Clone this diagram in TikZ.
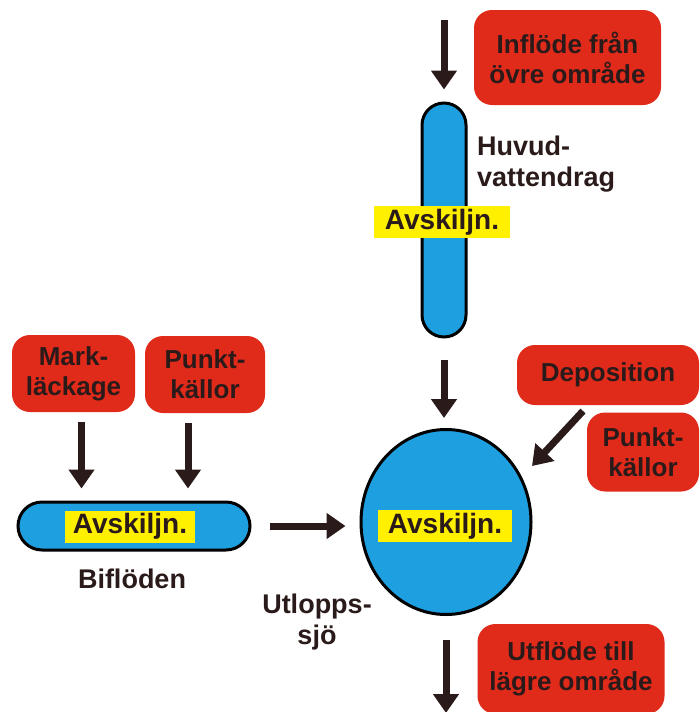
\documentclass[tikz,border=0pt]{standalone}
\usepackage{fontspec}
\setmainfont{Liberation Sans}
\usetikzlibrary{arrows.meta,shapes.geometric}
\definecolor{boxred}{HTML}{E02A1A}
\definecolor{waterblue}{HTML}{1E9FE0}
\definecolor{sepyellow}{HTML}{FFF000}
\definecolor{ink}{HTML}{2A1A1A}
\tikzset{source/.style = {fill=boxred, rounded corners=18pt, text=ink, align=center,
    inner sep=0pt, font=\bfseries\fontsize{26}{30}\selectfont},
  waterbody/.style = {fill=waterblue, draw=black, line width=3pt},
  sepbox/.style = {fill=sepyellow, inner sep=0pt, minimum height=32pt, text=ink,
    font=\bfseries\fontsize{28}{30}\selectfont},
  caption/.style = {text=ink, inner sep=0pt, font=\bfseries\fontsize{27}{31}\selectfont},
  flow/.style = {-{Triangle[width=25pt,length=19pt]}, line width=7pt, draw=ink}}

\begin{document}
\begin{tikzpicture}[x=1pt, y=-1pt]
  \useasboundingbox (0,0) rectangle (699,712);
  % huvudvattendrag
  \node[source, minimum width=187pt, minimum height=95pt] (infl) at (567.5,57.5) {Inflöde från\\övre område};
  \node[waterbody, rounded corners=22pt, minimum width=44pt, minimum height=234pt] (huvud) at (444,220) {};
  \node[sepbox, minimum width=136pt] (avsk1) at (442,222) {Avskiljn.};
  \node[caption, anchor=north west, align=left] (huvtext) at (477,136) {Huvud-\\vattendrag};
  % sjön
  \node[waterbody, ellipse, inner sep=0pt, minimum width=170pt, minimum height=185pt] (sjo) at (446,522) {};
  \node[sepbox, minimum width=134pt] (avsk2) at (445,526) {Avskiljn.};
  \node[caption, align=center] (utlopp) at (317,622) {Utlopps-\\sjö};
  \node[source, minimum width=182pt, minimum height=60pt] (depo) at (608,375) {Deposition};
  \node[source, minimum width=112pt, minimum height=79pt] (punkt2) at (643,452) {Punkt-\\källor};
  \node[source, minimum width=187pt, minimum height=90pt] (utfl) at (571,669) {Utflöde till\\lägre område};
  % biflöden
  \node[source, minimum width=123pt, minimum height=77pt] (mark) at (73.5,373.5) {Mark-\\läckage};
  \node[source, minimum width=120pt, minimum height=77pt] (punkt1) at (205,374.5) {Punkt-\\källor};
  \node[waterbody, rounded corners=24pt, minimum width=232pt, minimum height=48pt] (bifl) at (134,526) {};
  \node[sepbox, minimum width=130pt] (avsk3) at (130,526.5) {Avskiljn.};
  \node[caption] (bifltext) at (132,579) {Biflöden};

  \coordinate (intop) at (444,20);
  \coordinate (utbot) at (446,713);
  \coordinate (dstart) at (583,411);
  \coordinate (dend) at (532,466);

  \draw[flow, shorten >=12pt] (intop) -- (huvud.north);
  \draw[flow, shorten <=21pt, shorten >=10pt] (huvud.south) -- (huvud.south |- sjo.north);
  \draw[flow, shorten <=10pt, shorten >=12pt] ([xshift=8pt]mark.south) -- ([xshift=8pt]mark.south |- bifl.north);
  \draw[flow, shorten <=10pt, shorten >=12pt] ([xshift=-17pt]punkt1.south) -- ([xshift=-17pt]punkt1.south |- bifl.north);
  \draw[flow, shorten <=18pt, shorten >=14pt] (bifl.east) -- (bifl.east -| sjo.west);
  \draw[flow] (dstart) -- (dend);
  \draw[flow, shorten <=24pt] (sjo.south) -- (utbot);
\end{tikzpicture}
\end{document}
